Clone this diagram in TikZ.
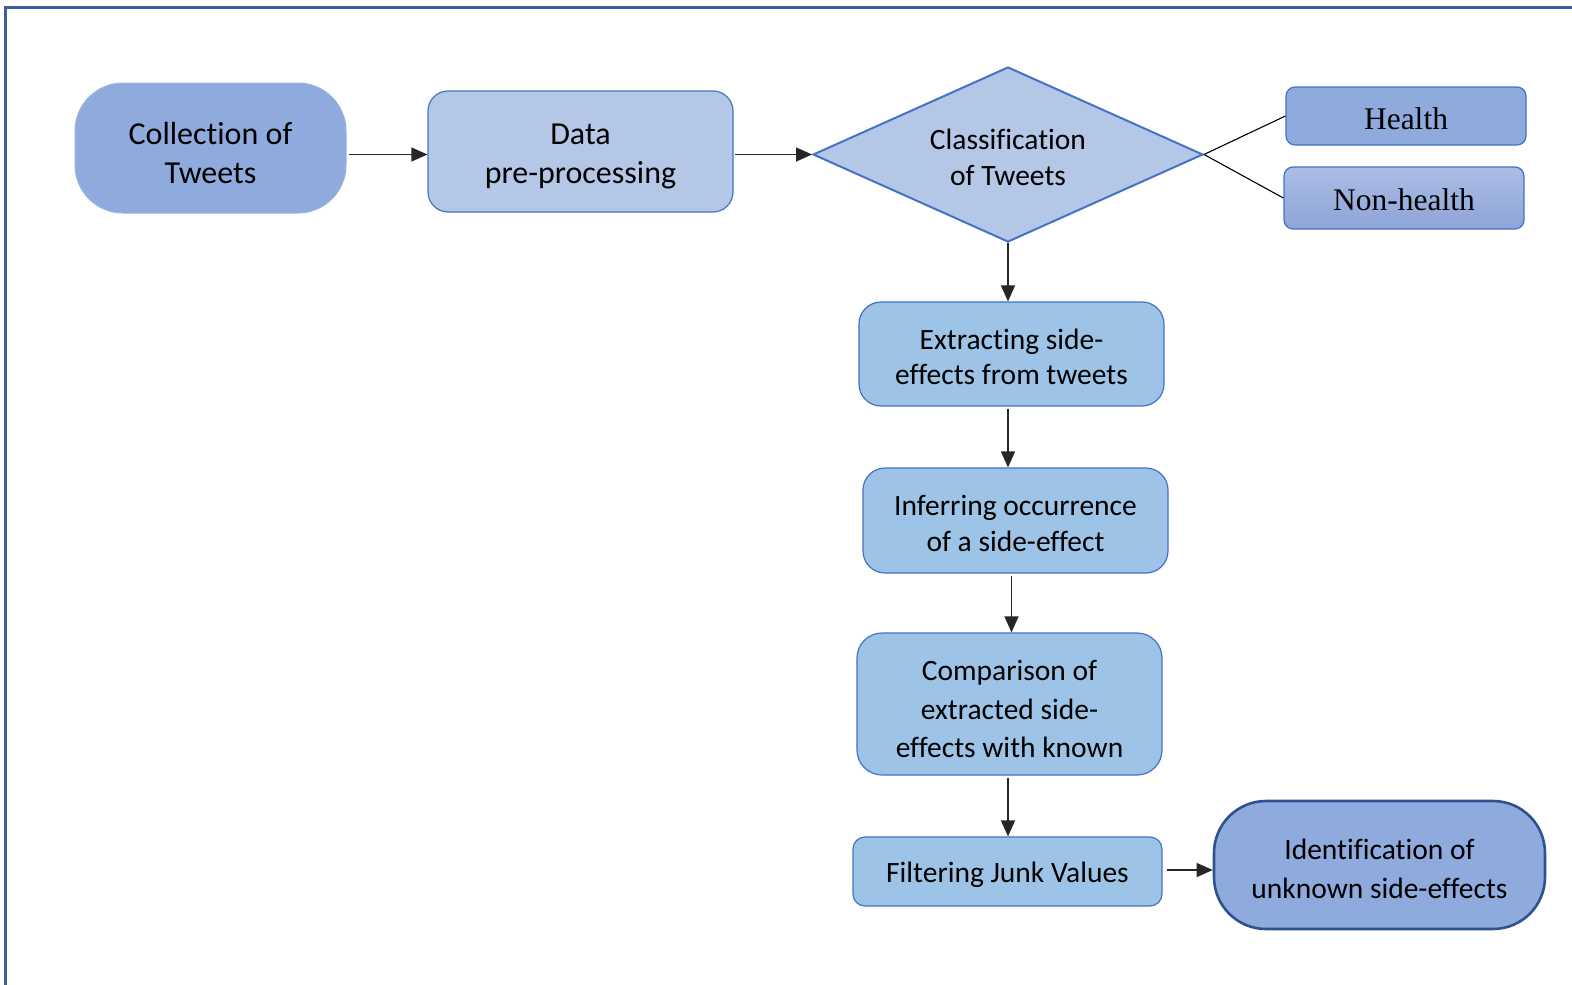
\documentclass[tikz,border=0pt]{standalone}
\usepackage{fontspec}
\setmainfont{Carlito}[Ligatures=CommonOff]
\newfontfamily\serifface{Liberation Serif}
\usetikzlibrary{shapes.geometric,arrows.meta,calc}
\definecolor{frameblue}{HTML}{3F5EA0}
\definecolor{edgeblue}{HTML}{4472C4}
\definecolor{darkedge}{HTML}{2F528F}
\definecolor{midfill}{HTML}{8FAADC}
\definecolor{palefill}{HTML}{B4C7E7}
\definecolor{skyfill}{HTML}{9DC3E6}
\definecolor{softedge}{HTML}{9DB3E0}
\definecolor{shadetop}{HTML}{AABDE4}
\definecolor{shadebottom}{HTML}{8EA4D8}
\begin{document}
\begin{tikzpicture}[x=1pt,y=-1pt,
  every node/.style={inner sep=0pt, align=center, text=black},
  bigtext/.style={font=\fontsize{32}{39.5}\selectfont},
  smalltext/.style={font=\fontsize{29.5}{35.5}\selectfont},
  % text placed slightly below the geometric centre of its shape
  txt/.style={label={[smalltext, align=center, yshift=-3pt]center:{#1}}},
  bigtxt/.style={label={[bigtext, align=center, yshift=-5pt]center:{#1}}},
  termbox/.style={rectangle, fill=midfill},
  procbox/.style={rectangle, draw=edgeblue, line width=1.2pt, fill=skyfill},
  classbox/.style={rectangle, draw=edgeblue, line width=1.2pt, rounded corners=9pt,
    minimum width=240pt, font=\serifface\fontsize{31.5}{36}\selectfont},
  arr/.style={line width=1.3pt, draw=black!85, -{Triangle[length=16pt,width=14pt]}},
  link/.style={line width=1.1pt, draw=black}]
\useasboundingbox (0,0) rectangle (1572,985);
\fill[white] (0,0) rectangle (1572,985);
% page frame
\draw[frameblue, line width=3pt] (1572,7) -- (5,7) -- (5,985);

% top row
\node[termbox, draw=softedge, line width=1pt, rounded corners=48pt,
  minimum width=271pt, minimum height=130pt,
  bigtxt={Collection of\\Tweets}] (coll) at (210.5,148) {};
\node[rectangle, draw=edgeblue, line width=1.2pt, fill=palefill, rounded corners=20pt,
  minimum width=305pt, minimum height=121pt,
  bigtxt={Data\\pre-processing}] (data) at (580.5,151.5) {};
\node[diamond, draw=edgeblue, line width=2pt, fill=palefill,
  minimum width=390pt, minimum height=175pt,
  txt={Classification\\of Tweets}] (cls) at (1008,154.5) {};
\node[classbox, fill=midfill, minimum height=58pt,
  label={[font=\serifface\fontsize{31.5}{36}\selectfont, yshift=-3pt]center:Health}]
  (health) at (1406,116) {};
\node[classbox, top color=shadetop, bottom color=shadebottom, minimum height=62pt,
  label={[font=\serifface\fontsize{31.5}{36}\selectfont, yshift=-2pt]center:Non-health}]
  (nonh) at (1404,198) {};

% vertical chain
\node[procbox, rounded corners=22pt, minimum width=305pt, minimum height=104pt,
  txt={Extracting side-\\effects from tweets}] (ext) at (1011.5,354) {};
\node[procbox, rounded corners=22pt, minimum width=305pt, minimum height=105pt,
  txt={Inferring occurrence\\of a side-effect}] (inf) at (1015.5,520.5) {};
\node[procbox, rounded corners=25pt, minimum width=305pt, minimum height=142pt,
  label={[font=\fontsize{29.5}{38.5}\selectfont, align=center, yshift=-5pt]center:{Comparison of\\extracted side-\\effects with known}}]
  (cmp) at (1009.5,704) {};
\node[procbox, rounded corners=12pt, minimum width=309pt, minimum height=69pt,
  txt={Filtering Junk Values}] (fil) at (1007.5,871.5) {};
\node[termbox, draw=darkedge, line width=2.6pt, rounded corners=52pt,
  minimum width=331pt, minimum height=128pt,
  label={[font=\fontsize{29.5}{38.5}\selectfont, align=center, yshift=-4pt]center:{Identification of\\unknown side-effects}}]
  (idn) at (1379.5,865) {};

% connectors
\draw[arr, shorten <=2pt] (coll.east |- cls) -- (data.west |- cls);
\draw[arr, shorten <=1pt] (data.east |- cls) -- (cls.west);
\draw[link] (cls.east) -- (health.west);
\draw[link] (cls.east) -- (nonh.west);
\draw[arr] (cls.south) -- (cls.south |- ext.north);
\draw[arr, shorten <=2pt] (cls.south |- ext.south) -- (cls.south |- inf.north);
\draw[arr, shorten <=2pt] (ext.south |- inf.south) -- (ext.south |- cmp.north);
\draw[arr, shorten <=2pt] (cls.south |- cmp.south) -- (cls.south |- fil.north);
\coordinate (fs) at ([yshift=1.5pt]fil.east);
\draw[arr, shorten <=4pt] (fs) -- (fs -| idn.west);
\end{tikzpicture}
\end{document}
